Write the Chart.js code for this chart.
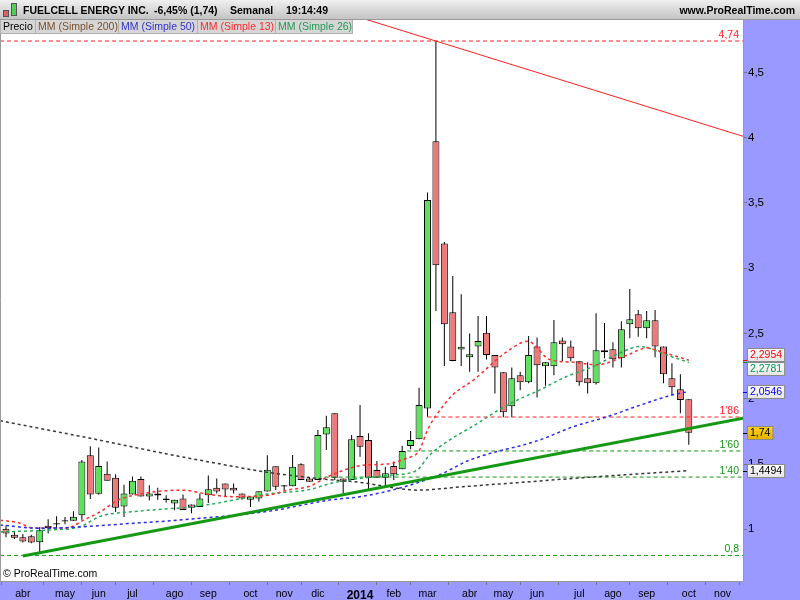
<!DOCTYPE html>
<html>
<head>
<meta charset="utf-8">
<script src="https://cdn.jsdelivr.net/npm/chart.js@4.4.1/dist/chart.umd.min.js"></script>
<style>
body{margin:0;background:#fff;font-family:"Liberation Sans",Arial,sans-serif;}
#wrap{position:relative;width:800px;height:600px;overflow:hidden;}
#hdr{position:absolute;left:0;top:0;width:800px;height:20px;background:linear-gradient(#f0f0f0,#c4c4c4);border-bottom:1px solid #9a9a9a;box-sizing:border-box;}
.h{position:absolute;top:0;line-height:21px;font-size:10.5px;font-weight:bold;color:#000;white-space:nowrap;}
#cv{position:absolute;left:0;top:20px;}
.lg{position:absolute;top:20px;height:14px;line-height:13px;font-size:10.5px;background:#d6d6d6;border:1px solid #b0b0b0;border-top:none;box-sizing:border-box;padding-left:2px;white-space:nowrap;}
#copy{position:absolute;left:3px;top:567px;font-size:10.5px;color:#000;}
.ic{position:absolute;border:1px solid #555;box-sizing:border-box;}
</style>
</head>
<body>
<div id="wrap">
  <canvas id="cv" width="800" height="580"></canvas>
  <div id="hdr">
    <div class="ic" style="left:3px;top:10px;width:6px;height:7px;background:#e06060"></div>
    <div class="ic" style="left:11px;top:3px;width:6px;height:13px;background:#50d050"></div>
    <span class="h" style="left:23px">FUELCELL ENERGY INC.</span>
    <span class="h" style="left:154px">-6,45% (1,74)</span>
    <span class="h" style="left:230px">Semanal</span>
    <span class="h" style="left:286px">19:14:49</span>
    <span class="h" style="right:5px">www.ProRealTime.com</span>
  </div>
  <div class="lg" style="left:0;width:36px;color:#000">Precio</div>
  <div class="lg" style="left:35px;width:84px;color:#7a5230">MM (Simple 200)</div>
  <div class="lg" style="left:118px;width:80px;color:#3333cc">MM (Simple 50)</div>
  <div class="lg" style="left:197px;width:79px;color:#ff2a2a">MM (Simple 13)</div>
  <div class="lg" style="left:275px;width:78px;color:#229955">MM (Simple 26)</div>
  <div id="copy">© ProRealTime.com</div>
</div>
<script>
// velas semanales (marzo 2013 - octubre 2014)
const opens  = [1.005,0.959,0.939,0.946,0.90,1.028,1.041,1.064,1.066,1.107,1.567,1.272,1.426,1.395,1.174,1.266,1.385,1.251,1.275,1.23,
                1.197,1.235,1.189,1.171,1.26,1.319,1.35,1.319,1.275,1.227,1.235,1.29,1.482,1.332,1.33,1.498,1.39,1.378,1.727,1.888,
                1.39,1.378,1.714,1.684,1.454,1.395,1.485,1.46,1.638,1.689,1.926,3.973,3.19,2.662,2.378,2.317,2.40,2.505,2.336,2.202,
                1.942,2.18,2.126,2.40,2.248,2.248,2.447,2.40,2.287,2.157,2.118,2.371,2.379,2.31,2.57,2.647,2.54,2.601,2.40,2.157,
                2.072,1.996];
const highs  = [1.03,0.985,0.964,0.959,1.018,1.077,1.10,1.095,1.138,1.53,1.636,1.626,1.52,1.421,1.342,1.405,1.405,1.337,1.319,1.261,
                1.227,1.266,1.189,1.275,1.413,1.389,1.35,1.35,1.275,1.251,1.291,1.567,1.482,1.34,1.569,1.505,1.40,1.76,1.87,1.888,
                1.39,1.722,1.952,1.735,1.523,1.48,1.52,1.64,1.753,2.085,3.58,4.74,3.20,2.94,2.80,2.50,2.634,2.634,2.336,2.202,
                2.24,2.207,2.48,2.47,2.279,2.603,2.47,2.447,2.287,2.279,2.655,2.58,2.432,2.593,2.84,2.68,2.672,2.68,2.40,2.271,
                2.187,1.996];
const lows   = [0.94,0.926,0.898,0.893,0.81,0.967,1.005,1.038,1.066,1.074,1.232,1.264,1.372,1.132,1.095,1.266,1.251,1.22,1.227,1.205,
                1.145,1.148,1.123,1.171,1.202,1.275,1.248,1.275,1.227,1.171,1.213,1.29,1.301,1.30,1.33,1.378,1.365,1.378,1.607,1.378,
                1.276,1.378,1.556,1.301,1.395,1.326,1.378,1.46,1.613,1.689,1.862,2.672,2.25,2.287,2.25,2.207,2.207,2.30,2.04,1.858,
                1.858,2.065,2.118,2.01,2.10,2.18,2.287,2.287,2.10,2.04,2.11,2.31,2.24,2.24,2.463,2.475,2.463,2.317,2.118,2.027,
                1.888,1.648];
const closes = [0.967,0.936,0.906,0.898,0.992,1.01,1.041,1.064,1.097,1.52,1.266,1.485,1.372,1.166,1.275,1.372,1.251,1.275,1.258,1.23,
                1.227,1.148,1.166,1.235,1.306,1.289,1.304,1.297,1.235,1.251,1.291,1.457,1.326,1.332,1.48,1.378,1.365,1.722,1.781,1.395,
                1.365,1.689,1.633,1.395,1.395,1.429,1.421,1.60,1.684,1.952,3.522,3.022,2.57,2.289,2.398,2.34,2.443,2.336,2.24,1.896,
                2.157,2.126,2.336,2.256,2.279,2.432,2.417,2.31,2.126,2.118,2.371,2.356,2.302,2.532,2.609,2.54,2.601,2.40,2.187,2.088,
                1.99,1.74];

// medias moviles (semana, valor)
const ma200X = [-0.71,10,19.1,25,31.3,38.4,42.3,46.4,48.8,54.2,62.2,70.1,81];
const ma200Y = [1.832,1.697,1.577,1.505,1.434,1.38,1.357,1.314,1.30,1.326,1.365,1.403,1.4494];
const ma50X  = [-0.71,4.0,15.1,23,31.3,38.4,42,46.4,51.5,55,63.3,67.3,71.3,75.2,79.1,81];
const ma50Y  = [1.033,1.008,1.046,1.084,1.14,1.224,1.25,1.31,1.42,1.53,1.684,1.786,1.862,1.95,2.03,2.0546];
const ma13X  = [-0.71,1.5,3.2,7.2,9.2,11.2,13.2,15.1,21,23.8,27,31,33.4,36,38.4,42.3,45.2,47.6,49,50,51,53,55.4,59.4,61.9,64.5,67.3,70.1,73.7,76.1,77.2,81];
const ma13Y  = [1.07,1.05,1.01,1.01,1.07,1.135,1.22,1.26,1.30,1.27,1.25,1.26,1.30,1.33,1.41,1.49,1.50,1.546,1.60,1.76,1.87,2.03,2.14,2.36,2.44,2.30,2.28,2.26,2.335,2.39,2.37,2.2954];
const ma26X  = [-0.71,5.2,8.8,11.2,15.1,23,31,36.1,38.4,42,45.9,48.8,50,51,53,55.4,59.4,63.4,66.5,69.6,72.8,75.2,78.4,81];
const ma26Y  = [0.98,0.995,1.02,1.10,1.135,1.18,1.27,1.306,1.35,1.39,1.416,1.454,1.55,1.61,1.70,1.79,1.95,2.07,2.17,2.245,2.35,2.40,2.335,2.2781];

// lineas de tendencia y niveles
const soporteX = [2.0, 87.43];
const soporteY = [0.795, 1.85];
const resistX  = [40, 87.43];
const resistY  = [4.96, 4.01];
const niveles     = [4.74, 1.86, 1.60, 1.40, 0.8];
const nivelDesde  = [-0.71, 50, 47.6, 37.8, -0.71];
const nivelTexto  = ['4,74', "1'86", "1'60", "1'40", '0,8'];
const nivelColor  = ['#ff2020', '#ff2020', '#129912', '#129912', '#129912'];

// ejes
const mesesIdx = [2,7,11,15,20,24,29,33,37,42,46,50,55,59,63,68,72,76,81,85];
const meses    = ['abr','may','jun','jul','ago','sep','oct','nov','dic','2014','feb','mar','abr','may','jun','jul','ago','sep','oct','nov'];
const yTicks   = [1,1.5,2,2.5,3,3.5,4,4.5];
const ultimos      = [2.2954, 2.2781, 2.0546, 1.74, 1.4494];
const ultimosTexto = ['2,2954','2,2781','2,0546','1,74','1,4494'];
const ultimosColor = ['#ff0000','#009955','#0000ee','#000000','#000000'];

const colorSube = '#5ee25e';
const colorBaja = '#ec7a7a';
const FONT = '"Liberation Sans", Arial, sans-serif';

function pts(xs, ys){ return xs.map((x,i)=>({x:x, y:ys[i]})); }

const cuerpos = opens.map((o,i)=>{
  const c = closes[i];
  return {x:i, y: Math.abs(c-o) < 0.004 ? [o-0.005, o+0.005] : [o, c]};
});
const colores = opens.map((o,i)=>{
  const c = closes[i];
  if (Math.abs(c-o) < 0.004) return '#000';
  return c > o ? colorSube : colorBaja;
});
const mechas = lows.map((l,i)=>({x:i, y:[l, highs[i]]}));

const marco = {
  id:'marco',
  beforeDraw(c){
    const {ctx, chartArea:a, width, height} = c;
    ctx.save();
    ctx.fillStyle = '#fff';
    ctx.fillRect(0,0,width,height);
    ctx.fillStyle = '#9999ff';
    ctx.fillRect(a.right,0,width-a.right,height);
    ctx.fillRect(0,a.bottom,width,height-a.bottom);
    ctx.restore();
  },
  afterDraw(c){
    const {ctx, chartArea:a} = c;
    const ys = c.scales.y;
    ctx.save();
    ctx.strokeStyle = '#999';
    ctx.lineWidth = 1;
    ctx.beginPath();
    ctx.moveTo(0.5,a.top); ctx.lineTo(0.5,a.bottom);
    ctx.moveTo(0,a.bottom+0.5); ctx.lineTo(a.right+0.5,a.bottom+0.5);
    ctx.moveTo(a.right+0.5,a.top); ctx.lineTo(a.right+0.5,a.bottom);
    ctx.stroke();

    // textos de los niveles
    ctx.font = '10.5px ' + FONT;
    ctx.textAlign = 'right';
    ctx.textBaseline = 'alphabetic';
    niveles.forEach((v,i)=>{
      ctx.fillStyle = nivelColor[i];
      ctx.fillText(nivelTexto[i], a.right-4, ys.getPixelForValue(v)-3);
    });

    // recuadros de ultimo valor
    const items = ultimos.map((v,i)=>({y0: ys.getPixelForValue(v), y: ys.getPixelForValue(v), i:i}));
    items.sort((p,q)=>p.y-q.y);
    for (let k=1;k<items.length;k++){
      const d = 14 - (items[k].y - items[k-1].y);
      if (d > 0){ items[k-1].y -= d/2; items[k].y += d/2; }
    }
    ctx.textAlign = 'left';
    ctx.textBaseline = 'middle';
    items.forEach(it=>{
      const i = it.i;
      const w = ctx.measureText(ultimosTexto[i]).width + 5;
      const x0 = a.right + 4, top = Math.round(it.y - 6.5) + 0.5;
      ctx.strokeStyle = ultimosColor[i];
      ctx.beginPath();
      ctx.moveTo(a.right, Math.round(it.y0)+0.5); ctx.lineTo(a.right+4, Math.round(it.y0)+0.5);
      ctx.stroke();
      let g = ctx.createLinearGradient(0, top, 0, top+13);
      if (i === 3){ g.addColorStop(0,'#ffd21a'); g.addColorStop(1,'#e8b000'); }
      else { g.addColorStop(0,'#ffffff'); g.addColorStop(1,'#e4e4e4'); }
      ctx.fillStyle = g;
      ctx.fillRect(x0+0.5, top, w, 13);
      ctx.strokeStyle = '#8a8a8a';
      ctx.strokeRect(x0+0.5, top, w, 13);
      ctx.fillStyle = ultimosColor[i];
      ctx.fillText(ultimosTexto[i], x0+3, top+7);
    });
    ctx.restore();
  }
};

const lineaMM = (xs, ys, color) => ({
  type:'line', data: pts(xs, ys), borderColor: color, borderWidth: 1.5,
  borderDash:[3,3], pointRadius:0, cubicInterpolationMode:'monotone', order:1
});

const datasets = [
  {type:'bar', data: mechas, backgroundColor:'#000', borderWidth:0, barThickness:1, grouped:false, inflateAmount:0, order:4},
  {type:'bar', data: cuerpos, backgroundColor: colores, borderColor:'#000', borderWidth:1, borderSkipped:false,
   barThickness:7, grouped:false, inflateAmount:0, order:3},
  lineaMM(ma200X, ma200Y, '#383838'),
  lineaMM(ma50X, ma50Y, '#2a2aee'),
  lineaMM(ma13X, ma13Y, '#ff2a2a'),
  lineaMM(ma26X, ma26Y, '#22aa55'),
  {type:'line', data: pts(soporteX, soporteY), borderColor:'#159915', borderWidth:3, pointRadius:0, order:0},
  {type:'line', data: pts(resistX, resistY), borderColor:'#ff2020', borderWidth:1, pointRadius:0, order:0}
];
niveles.forEach((v,i)=>{
  datasets.push({type:'line', data:[{x:nivelDesde[i], y:v},{x:87.43, y:v}], borderColor: nivelColor[i],
    borderWidth:1, borderDash:[4,3], pointRadius:0, order:2});
});

new Chart(document.getElementById('cv'), {
  type:'bar',
  data:{ datasets: datasets },
  options:{
    responsive:false,
    animation:false,
    layout:{padding:0},
    plugins:{legend:{display:false}, tooltip:{enabled:false}},
    scales:{
      x:{
        type:'linear', min:-0.712, max:87.43, offset:false,
        grid:{drawOnChartArea:false, drawTicks:true, tickLength:4, color:'#777'},
        border:{display:false},
        afterBuildTicks: s => { s.ticks = mesesIdx.map(v=>({value:v})); },
        afterFit: s => { s.height = 19; s.paddingLeft = 0; s.paddingRight = 0; },
        ticks:{
          autoSkip:false, maxRotation:0, padding:3, color:'#000',
          font: ctx => (ctx.tick && ctx.tick.value === 42) ? {family:FONT, size:12, weight:'bold'} : {family:FONT, size:10.5},
          callback: (v, i) => meses[i]
        }
      },
      y:{
        position:'right', min:0.604, max:4.901,
        grid:{drawOnChartArea:false, drawTicks:true, tickLength:4, color:'#777'},
        border:{display:false},
        afterBuildTicks: s => { s.ticks = yTicks.map(v=>({value:v})); },
        afterFit: s => { s.width = 57; s.paddingTop = 0; s.paddingBottom = 0; },
        ticks:{
          padding:1, color:'#000', font:{family:FONT, size:11.5},
          callback: v => String(v).replace('.', ',')
        }
      }
    }
  },
  plugins:[marco]
});
</script>
</body>
</html>
